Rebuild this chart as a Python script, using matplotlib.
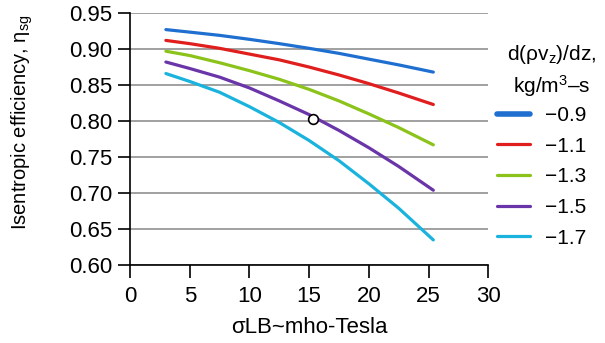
import matplotlib
matplotlib.use("Agg")
import matplotlib.pyplot as plt

plt.rcParams['font.family'] = ['Liberation Sans', 'DejaVu Sans']
plt.rcParams['mathtext.fontset'] = 'custom'
plt.rcParams['mathtext.rm'] = 'Liberation Sans'
plt.rcParams['mathtext.it'] = 'Liberation Sans'

# values
sigma_lb = [3, 5, 7.5, 10, 12.5, 15, 17.5, 20, 22.5, 25.4]
eta_09 = [0.927, 0.9235, 0.919, 0.9135, 0.9075, 0.901, 0.894, 0.886, 0.878, 0.868]
eta_11 = [0.912, 0.9075, 0.901, 0.893, 0.885, 0.875, 0.864, 0.852, 0.839, 0.823]
eta_13 = [0.897, 0.891, 0.881, 0.870, 0.858, 0.844, 0.828, 0.810, 0.791, 0.767]
eta_15 = [0.882, 0.873, 0.861, 0.846, 0.828, 0.809, 0.787, 0.763, 0.737, 0.704]
eta_17 = [0.866, 0.855, 0.840, 0.820, 0.798, 0.773, 0.745, 0.713, 0.679, 0.635]
labels = ['\u22120.9', '\u22121.1', '\u22121.3', '\u22121.5', '\u22121.7']
colors = ['#1f6fd0', '#e01e1e', '#8cc31a', '#6a35a8', '#1ab3dd']
point_x = [15.3]
point_y = [0.803]

fig = plt.figure(figsize=(6.05, 3.43), dpi=100)
ax = fig.add_axes([0.215, 0.227, 0.592, 0.735])

series = [eta_09, eta_11, eta_13, eta_15, eta_17]
lines = []
for ys, c, lab in zip(series, colors, labels):
    ln, = ax.plot(sigma_lb, ys, color=c, lw=2.3, label=lab,
                  solid_capstyle='round', solid_joinstyle='round')
    lines.append(ln)
ax.plot(point_x, point_y, 'o', ms=7, mfc='white', mec='black', mew=1.2, zorder=5)

ax.set_xlim(0, 30)
ax.set_ylim(0.60, 0.95)
ax.set_xticks(range(0, 31, 5))
ax.set_yticks([0.60, 0.65, 0.70, 0.75, 0.80, 0.85, 0.90, 0.95])
ax.set_yticklabels(['%.2f' % v for v in ax.get_yticks()])
ax.yaxis.grid(True, color='#a0a0a0', lw=1.4)
ax.set_axisbelow(True)
for s in ['top', 'right']:
    ax.spines[s].set_visible(False)
for s in ['left', 'bottom']:
    ax.spines[s].set_linewidth(1.2)
ax.tick_params(direction='out', length=9, width=1.2, labelsize=16)
ax.tick_params(axis='y', pad=4)
ax.tick_params(axis='x', pad=6)

ax.set_xlabel('\u03c3LB~mho-Tesla', fontsize=16, labelpad=7)
ax.set_ylabel('Isentropic efficiency, \u03b7$_{\\rm sg}$', fontsize=14.5)
ax.yaxis.set_label_coords(-0.265, 0.567)

fig.text(552 / 605, 1 - 71 / 343, 'd(\u03c1v$_{\\rm z}$)/dz,\nkg/m$^{3}$\u2013s',
         fontsize=15, ha='center', va='center', multialignment='center',
         linespacing=1.35)
leg = fig.legend(handles=lines, loc='upper left',
                 bbox_to_anchor=(497 / 605, 1 - 106 / 343),
                 fontsize=15, frameon=False, borderpad=0, borderaxespad=0,
                 handlelength=1.58, handletextpad=0.72, labelspacing=0.56)
for i, h in enumerate(leg.legend_handles):
    h.set_linewidth(4 if i == 0 else 2.3)

fig.savefig('out.png', dpi=100)
